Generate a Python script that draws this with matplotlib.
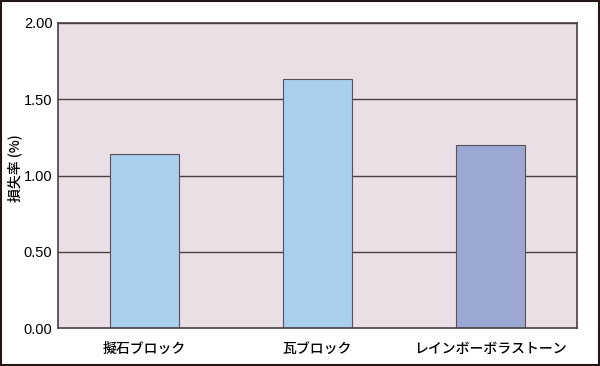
import matplotlib.pyplot as plt
from matplotlib.patches import Rectangle

plt.rcParams['font.family'] = ['Noto Sans CJK JP', 'DejaVu Sans']

categories = ['擬石ブロック', '瓦ブロック', 'レインボーボラストーン']
values = [1.14, 1.63, 1.20]
bar_colors = ['#a8cfee', '#a8cfee', '#9ba8d4']
yticks = [0.0, 0.5, 1.0, 1.5, 2.0]

fig = plt.figure(figsize=(6, 3.66), dpi=100)
ax = fig.add_axes([58 / 600, 1 - 328 / 366, 519 / 600, 305 / 366])
ax.set_facecolor('#eadfe5')

for y in yticks[1:]:
    ax.axhline(y, color='#4a3f43', linewidth=1.0, zorder=1)

ax.bar(range(len(categories)), values, width=0.4, color=bar_colors,
       edgecolor='#5a5055', linewidth=0.8, zorder=2)

ax.set_xlim(-0.5, 2.5)
ax.set_ylim(0, 2.0)
ax.set_yticks(yticks)
ax.set_yticklabels([f'{v:.2f}' for v in yticks], fontsize=10.5, family='Liberation Sans')
ax.set_xticks(range(len(categories)))
ax.set_xticklabels(categories, fontsize=10, fontweight='medium')
ax.tick_params(axis='y', length=0, pad=4)
ax.tick_params(axis='x', length=0, pad=10)

# y軸ラベル
fig.text(15 / 600, 1 - 168 / 366, '損失率 (%)', rotation=90, fontsize=10,
         fontweight='medium', ha='center', va='center')

for s in ax.spines.values():
    s.set_color('#4a3f43')
    s.set_linewidth(1.2)

fig.patches.append(Rectangle((0.002, 0.003), 0.996, 0.994, transform=fig.transFigure,
                             fill=False, edgecolor='#231815', linewidth=1.5))

fig.savefig('out.png', dpi=100)
